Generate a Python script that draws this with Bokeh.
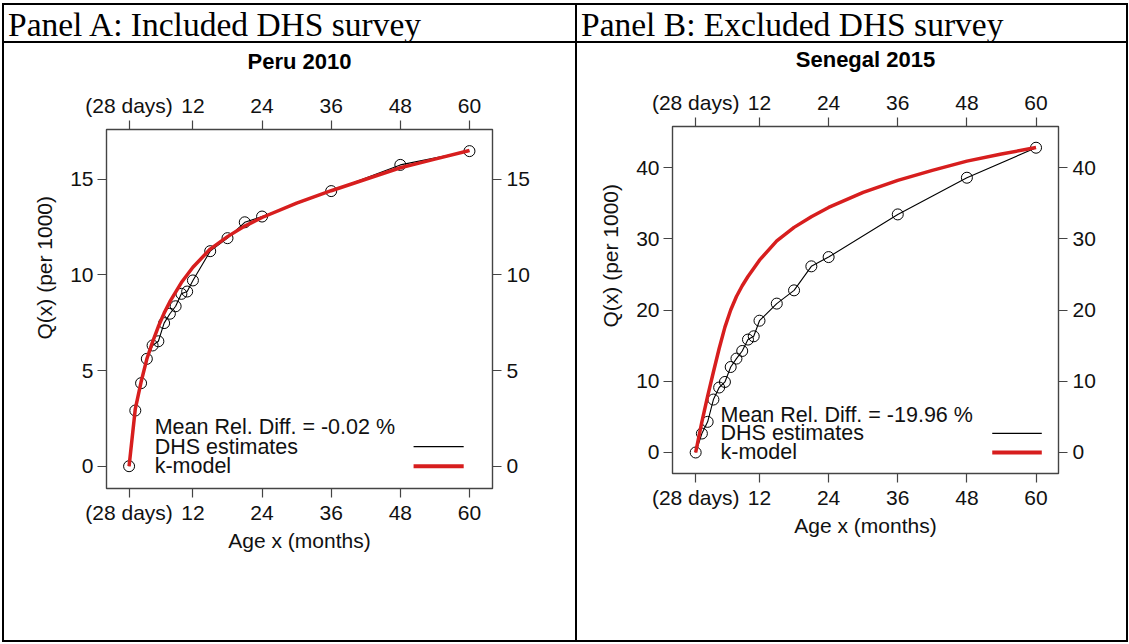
from bokeh.plotting import figure
from bokeh.layouts import row, column
from bokeh.models import FixedTicker, LinearAxis, Range1d, Label, Spacer, Div, Title
from bokeh.embed import file_html
from bokeh.resources import INLINE

# ---------------- data ----------------
months = [0.92, 2, 3, 4, 5, 6, 7, 8, 9, 10, 11, 12, 15, 18, 21, 24, 36, 48, 60]
peru_dhs = [0, 2.91, 4.34, 5.61, 6.31, 6.53, 7.48, 7.97, 8.36, 9.01, 9.13, 9.71,
            11.24, 11.92, 12.75, 13.05, 14.38, 15.75, 16.47]
senegal_dhs = [0, 2.66, 4.3, 7.43, 9.12, 9.9, 12.0, 13.18, 14.25, 15.85, 16.31, 18.5,
               20.9, 22.76, 26.13, 27.43, 33.42, 38.57, 42.78]

model_months = [0.92, 2, 3, 4, 5, 6, 7, 8, 9, 10, 12, 15, 18, 21, 24, 30, 36, 42, 48, 54, 60]
peru_kmodel = [0, 3.0, 4.4, 5.6, 6.5, 7.3, 8.0, 8.6, 9.1, 9.6, 10.4, 11.35, 12.0, 12.55,
               13.0, 13.75, 14.4, 15.0, 15.6, 16.05, 16.5]
senegal_kmodel = [0, 4.3, 7.9, 11.3, 14.6, 17.6, 20.0, 21.9, 23.4, 24.7, 27.0, 29.7, 31.6,
                  33.1, 34.4, 36.5, 38.2, 39.6, 40.9, 41.9, 42.8]

x_ticks = [0.92, 12, 24, 36, 48, 60]
x_tick_labels = ["(28 days)", "12", "24", "36", "48", "60"]
peru_yticks = [0, 5, 10, 15]
senegal_yticks = [0, 10, 20, 30, 40]

headers = ["Panel A: Included DHS survey", "Panel B: Excluded DHS survey"]
titles = ["Peru 2010", "Senegal 2015"]
mean_rel_diff = ["Mean Rel. Diff. = -0.02 %", "Mean Rel. Diff. = -19.96 %"]
legend_labels = ["DHS estimates", "k-model"]
x_label = "Age x (months)"
y_label = "Q(x) (per 1000)"

# ---------------- style ----------------
RED = "#d71e1e"
BOX = "#444444"
SANS = "Liberation Sans"
SERIF = "Liberation Serif"
FS = "21px"
LINE = 2


def style_axis(ax, ticks, overrides=None):
    ax.ticker = FixedTicker(ticks=ticks)
    if overrides:
        ax.major_label_overrides = overrides
    ax.axis_line_color = None
    ax.major_tick_line_color = BOX
    ax.major_tick_line_width = 1.2
    ax.major_tick_out = 9
    ax.major_tick_in = 0
    ax.minor_tick_line_color = None
    ax.major_label_text_font = SANS
    ax.major_label_text_font_size = FS
    ax.major_label_text_color = "#111111"
    ax.axis_label_text_font = SANS
    ax.axis_label_text_font_size = FS
    ax.axis_label_text_font_style = "normal"
    ax.axis_label_text_color = "#111111"


def make_panel(title, dhs, kmodel, yticks, xr, yr, fw, fh, borders, title_gap,
               ylab_offset, legend):
    left, right, top, bottom = borders
    p = figure(frame_width=fw, frame_height=fh,
               x_range=Range1d(*xr), y_range=Range1d(*yr),
               min_border_left=left, min_border_right=right,
               min_border_top=top, min_border_bottom=bottom,
               output_backend="svg", toolbar_location=None, title=None)
    p.xgrid.visible = False
    p.ygrid.visible = False
    p.outline_line_color = BOX
    p.outline_line_width = 1.4
    p.background_fill_color = "white"
    p.border_fill_color = "white"

    overrides = {t: l for t, l in zip(x_ticks, x_tick_labels)}
    top_axis = LinearAxis()
    p.add_layout(top_axis, "above")
    p.add_layout(LinearAxis(), "right")
    for ax in p.xaxis:
        style_axis(ax, x_ticks, overrides)
    for ax in p.yaxis:
        style_axis(ax, yticks)

    # panel title, set over the top axis
    top_axis.axis_label = title
    top_axis.axis_label_text_font_style = "bold"
    top_axis.axis_label_text_font_size = "22px"
    top_axis.axis_label_text_color = "#000000"
    top_axis.axis_label_standoff = title_gap

    p.below[0].axis_label = x_label
    p.below[0].major_label_standoff = 3
    top_axis.major_label_standoff = 4
    p.left[0].major_label_standoff = 4
    p.right[0].major_label_standoff = 5
    p.below[0].axis_label_standoff = 2

    # y label: placed like the reference (not centred on the frame)
    p.add_layout(Title(text=y_label, align="left", offset=ylab_offset,
                       vertical_align="middle", standoff=22,
                       text_font=SANS, text_font_size=FS, text_font_style="normal",
                       text_color="#111111"), "left")

    p.line(months, dhs, line_color="black", line_width=1.1)
    p.scatter(months, dhs, marker="circle", size=11, fill_color=None,
              line_color="black", line_width=1)
    p.line(model_months, kmodel, line_color=RED, line_width=3.5)

    (tx, ty0, dy, lx0, lx1, mrd) = legend
    texts = [mrd] + legend_labels
    for i, t in enumerate(texts):
        p.add_layout(Label(x=tx, y=ty0 - i * dy, text=t, text_baseline="middle",
                           text_font=SANS, text_font_size="21.5px", text_color="#111111"))
    p.segment(x0=[lx0], y0=[ty0 - dy], x1=[lx1], y1=[ty0 - dy],
              line_color="black", line_width=1.2)
    p.segment(x0=[lx0], y0=[ty0 - 2 * dy], x1=[lx1], y1=[ty0 - 2 * dy],
              line_color=RED, line_width=4)
    return p


def header(text, w, h):
    html = ('<div style="font-family:\'Liberation Serif\',serif;font-size:33.5px;'
            'line-height:40px;padding-left:4px;white-space:nowrap;color:#000;">'
            + text + '</div>')
    return Div(text=html, width=w, height=h, margin=0, styles={"overflow": "visible"})


def hline(w):
    return Spacer(width=w, height=LINE, margin=0, styles={"background-color": "black"})


def vline(h):
    return Spacer(width=LINE, height=h, margin=0, styles={"background-color": "black"})


WA, WB = 571, 549
HH, HF = 36, 597
ROW_H = LINE + HH + LINE + HF + LINE

pA = make_panel(titles[0], peru_dhs, peru_kmodel, peru_yticks,
                (-3.0, 64.0), (-1.166, 17.6), 386, 359, (102, 83, 86, 152), 17, 149,
                (5.36, 2.04, 1.02, 50.3, 59.0, mean_rel_diff[0]))
pB = make_panel(titles[1], senegal_dhs, senegal_kmodel, senegal_yticks,
                (-3.1, 63.9), (-2.95, 45.76), 386, 347, (95, 68, 83, 167), 16, 146,
                (5.24, 5.33, 2.66, 52.4, 61.0, mean_rel_diff[1]))

colA = column(hline(WA), header(headers[0], WA, HH), hline(WA), pA, hline(WA))
colB = column(hline(WB), header(headers[1], WB, HH), hline(WB), pB, hline(WB))
body = row(Spacer(width=2, height=ROW_H, margin=0), vline(ROW_H), colA, vline(ROW_H),
           colB, vline(ROW_H))
layout = column(Spacer(width=1128, height=3, margin=0), body)

open("out.html", "w").write(file_html(layout, INLINE))
